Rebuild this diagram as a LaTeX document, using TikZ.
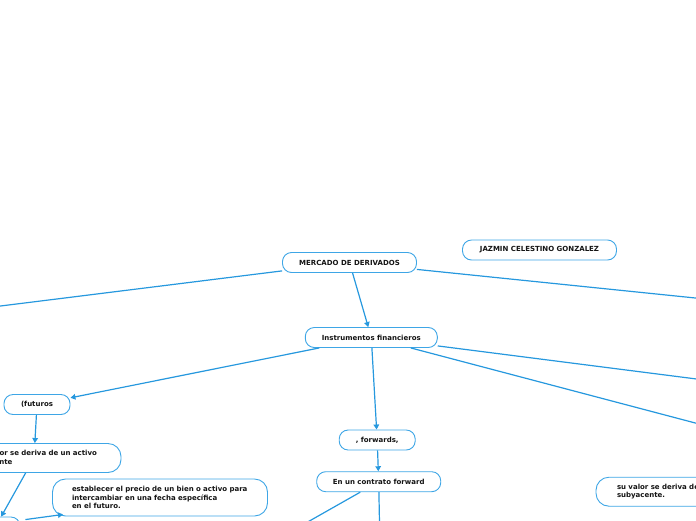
\documentclass[tikz,border=0pt]{standalone}
\usepackage{fontspec}
\setmainfont{DejaVu Sans}
\usetikzlibrary{arrows.meta}
\definecolor{lineblue}{RGB}{38,152,222}
\definecolor{boxblue}{RGB}{62,166,230}
\definecolor{txt}{RGB}{20,20,20}
\begin{document}
\begin{tikzpicture}[x=1pt,y=-1pt,
  box/.style={draw=boxblue, line width=0.9pt, fill=white, rounded corners=9pt,
    text=txt, font=\fontsize{7}{8.5}\selectfont\bfseries, inner sep=0pt, minimum height=20pt},
  mbox/.style={box, align=left, rounded corners=13pt},
  conn/.style={draw=lineblue, line width=1.2pt},
  arr/.style={conn, -{Triangle[length=5pt,width=5.5pt]}}]
\clip (0,0) rectangle (696,520);
% nodes
\node[box, minimum width=134pt] (mer) at (349.5,262.5) {MERCADO DE DERIVADOS};
\node[box, minimum width=154pt] (jaz) at (539.5,250) {JAZMIN CELESTINO GONZALEZ};
\node[box, minimum width=132pt] (ins) at (371.3,337.5) {Instrumentos financieros};
\node[box, minimum width=66pt] (fut) at (37,404.5) {(futuros};
\node[box, minimum width=76pt] (fwd) at (377.2,440) {, forwards,};
\node[box, minimum width=124pt] (con) at (378.7,481.7) {En un contrato forward};
\node[mbox, text width=134pt, inner xsep=20pt, minimum height=29pt] (suv) at (34,458)
  {cuyo valor se deriva de un activo\\subyacente};
\node[mbox, text width=176pt, inner xsep=19.5pt, minimum height=37pt] (est) at (160,497.5)
  {establecer el precio de un bien o activo para\\intercambiar en una fecha específica\\en el futuro.};
\node[mbox, text width=126pt, inner xsep=21pt, minimum height=29pt] (suvr) at (680,491.7)
  {su valor se deriva de un activo\\subyacente.};
\node[box, minimum width=56pt, minimum height=32pt] (bl) at (-8,533) {};
% far coordinates (outside the visible area)
\coordinate (farL) at (-200,331);
\coordinate (farR1) at (900,319);
\coordinate (farR2) at (900,405);
\coordinate (farR3) at (900,477);
\coordinate (farD1) at (200,583);
\coordinate (farD2) at (381,600);
\coordinate (blout) at ([shift={(5,3)}]bl.north east);
\coordinate (estin) at ([shift={(11,-2)}]est.south west);
% connectors
\draw[arr] (mer) -- (ins);
\draw[arr] (mer) -- (farL);
\draw[arr] (mer) -- (farR1);
\draw[arr] (ins) -- (fut);
\draw[arr] (ins) -- (fwd);
\draw[arr] (ins) -- (farR2);
\draw[arr] (ins) -- (farR3);
\draw[arr] (fut) -- (suv);
\draw[arr] (fwd) -- (con);
\draw[arr] (con) -- (farD1);
\draw[arr] (con) -- (farD2);
\draw[arr] (suv) -- (bl);
\draw[arr] (blout) -- (estin);
\end{tikzpicture}
\end{document}
